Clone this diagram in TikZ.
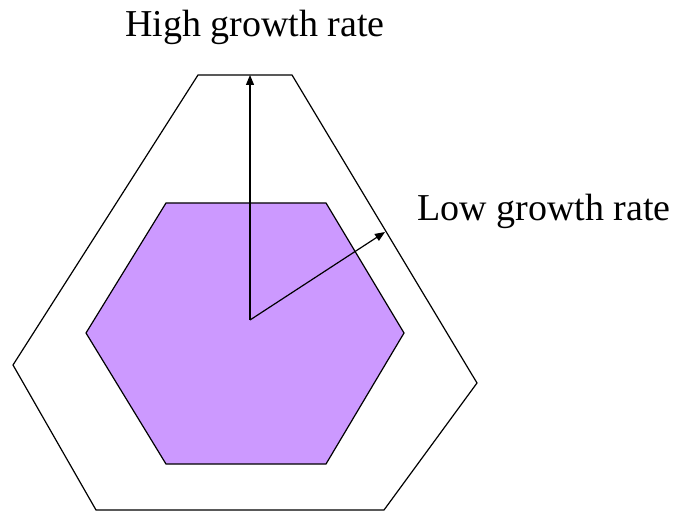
\documentclass[tikz,border=0pt]{standalone}
\usepackage{fontspec}
\setmainfont{Liberation Serif}
\usepackage{tikz}
\usetikzlibrary{arrows.meta,positioning}

\definecolor{lilac}{RGB}{204,153,255}

\begin{document}
\begin{tikzpicture}[
    x=1pt, y=-1pt,
    lbl/.style={inner sep=0pt, anchor=base west, font=\fontsize{38}{40}\selectfont},
    rim/.style={draw, line width=1.2pt, line join=miter},
    ray/.style={draw, line width=1.2pt, -{Triangle[length=10pt,width=8pt]}},
    ]
\useasboundingbox (0,0) rectangle (675,513);

% inner crystal
\fill[lilac] (166,203) -- (326,203) -- (404,333) -- (326,464) -- (166,464) -- (86,333) -- cycle;
\draw[rim] (166,203) -- (326,203) -- (404,333) -- (326,464) -- (166,464) -- (86,333) -- cycle;

% outer shape
\coordinate (tl) at (198,75);
\coordinate (tr) at (292,75);
\coordinate (r)  at (477,383);
\coordinate (br) at (384,510);
\coordinate (bl) at (96,510);
\coordinate (l)  at (13,365);
\draw[rim] (tl) -- (tr) -- (r) -- (br) -- (bl) -- (l) -- cycle;

% growth directions
\coordinate (o) at (250,320);
\coordinate (hi) at (250,75);
\coordinate (lo) at (385,232);
\draw[ray] (o) -- (hi);
\draw[ray] (o) -- (lo);

\node[lbl] (high) at (125,37) {High growth rate};
\node[lbl] (low) at (417,221) {Low growth rate};
\end{tikzpicture}
\end{document}
